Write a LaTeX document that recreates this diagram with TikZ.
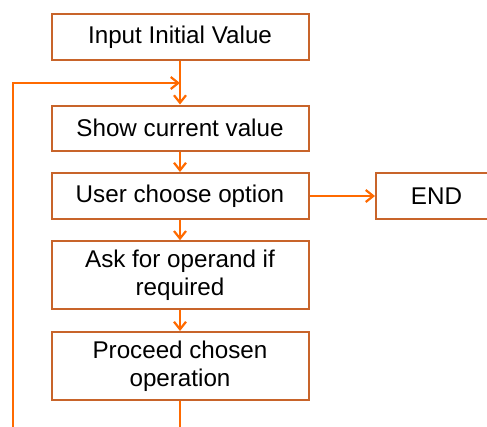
\documentclass[tikz,border=0pt]{standalone}
\usepackage{fontspec}
\setmainfont{Liberation Sans}
\usetikzlibrary{arrows.meta}
\definecolor{boxc}{HTML}{C8642A}
\definecolor{linec}{HTML}{FF6A00}
\tikzset{
  stepbox/.style={draw=boxc, line width=2pt, fill=white, minimum width=257pt, align=center, inner sep=0pt, font=\fontsize{24.2}{28}\selectfont},
  conn/.style={draw=linec, line width=2.2pt},
  arr/.style={conn, -{Straight Barb[length=7.5pt,width=12pt,line width=2.2pt]}}
}
\begin{document}
\begin{tikzpicture}[x=1pt,y=-1pt]
\useasboundingbox (0,0) rectangle (487,426);
\begin{scope}
\clip (0,0) rectangle (487,426);
\node[stepbox, minimum height=46pt] (b1) at (180,37) {Input Initial Value};
\node[stepbox, minimum height=45pt] (b2) at (180,128) {Show current value};
\node[stepbox, minimum height=46pt] (b3) at (180,196) {User choose option};
\node[stepbox, minimum height=68pt] (b4) at (180,275.3) {Ask for operand if\\required};
\node[stepbox, minimum height=68pt] (b5) at (180,366) {Proceed chosen\\operation};
\node[stepbox, minimum width=121pt, minimum height=46pt] (end) at (436.5,196) {END};
\coordinate (j) at (180,83);
\coordinate (lt) at (13.3,83);
\coordinate (lb) at (13.3,430);
\coordinate (cb) at (180,430);
\draw[arr] (b1.south) -- (b2.north);
\draw[arr] (lb) -- (lt) -- (j);
\draw[arr] (b2.south) -- (b3.north);
\draw[arr] (b3.east) -- (end.west);
\draw[arr] (b3.south) -- (b4.north);
\draw[arr] (b4.south) -- (b5.north);
\draw[conn] (b5.south) -- (cb);
\end{scope}
\end{tikzpicture}
\end{document}
